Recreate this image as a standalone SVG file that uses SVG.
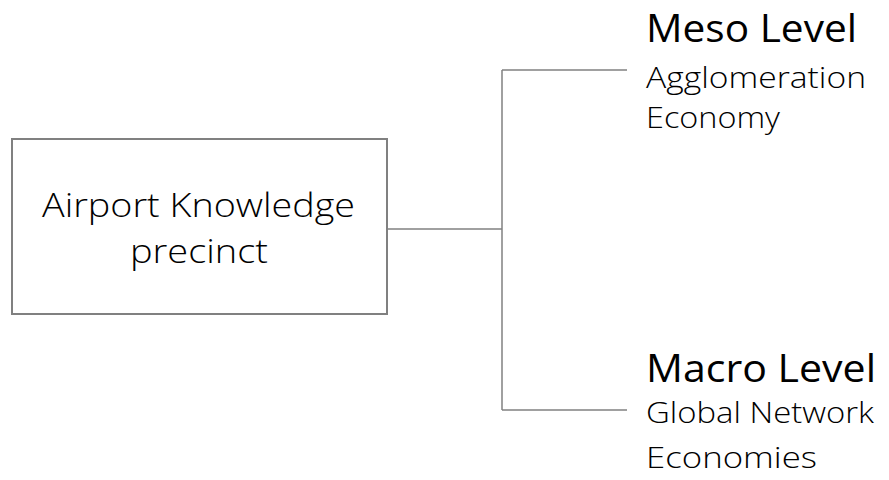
<svg xmlns="http://www.w3.org/2000/svg" width="889" height="480" viewBox="0 0 889 480">
  <style>
    .bg { fill: #ffffff; }
    .box { fill: #ffffff; stroke: #808080; stroke-width: 2; }
    .wire { fill: none; stroke: #808080; stroke-width: 1.5; }
    .t { font-family: "Open Sans", "Lato", "Liberation Sans", sans-serif; font-weight: 300; fill: #000000; }
    .main { font-size: 33px; }
    .head { font-size: 38px; font-weight: 400; }
    .sub { font-size: 29px; }
  </style>
  <rect class="bg" x="0" y="0" width="889" height="480"/>

  <g id="connectors">
    <path class="wire" d="M387 229 H502"/>
    <path class="wire" d="M502 70 V410"/>
    <path class="wire" d="M502 70 H627"/>
    <path class="wire" d="M502 410 H627"/>
  </g>

  <g id="precinct">
    <rect class="box" x="12" y="139" width="375" height="175"/>
    <text class="t main" x="42" y="217" textLength="313" lengthAdjust="spacingAndGlyphs">Airport Knowledge</text>
    <text class="t main" x="130" y="263" textLength="138" lengthAdjust="spacingAndGlyphs">precinct</text>
  </g>

  <g id="meso">
    <text class="t head" x="646" y="42" textLength="211" lengthAdjust="spacingAndGlyphs">Meso Level</text>
    <text class="t sub" x="646" y="88" textLength="220" lengthAdjust="spacingAndGlyphs">Agglomeration</text>
    <text class="t sub" x="646" y="128" textLength="134" lengthAdjust="spacingAndGlyphs">Economy</text>
  </g>

  <g id="macro">
    <text class="t head" x="646" y="382" textLength="230" lengthAdjust="spacingAndGlyphs">Macro Level</text>
    <text class="t sub" x="646" y="423" textLength="228" lengthAdjust="spacingAndGlyphs">Global Network</text>
    <text class="t sub" x="646" y="468" textLength="171" lengthAdjust="spacingAndGlyphs">Economies</text>
  </g>
</svg>
